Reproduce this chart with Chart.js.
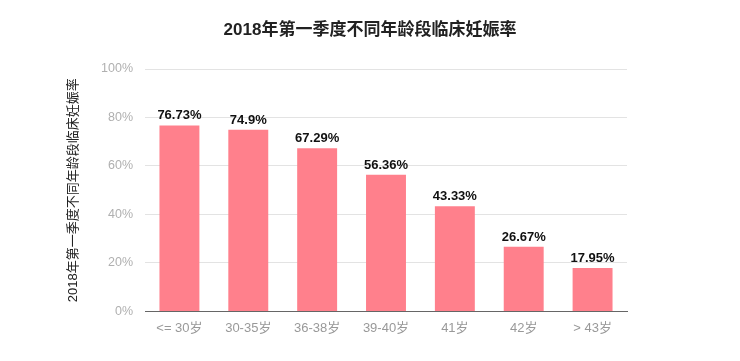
<!DOCTYPE html>
<html>
<head>
<meta charset="utf-8">
<script src="https://cdn.jsdelivr.net/npm/chart.js@4/dist/chart.umd.min.js"></script>
<style>
  html, body { margin: 0; padding: 0; background: #fff; }
  #wrap { width: 740px; height: 361px; position: relative; }
</style>
</head>
<body>
<div id="wrap"><canvas id="c"></canvas></div>
<script>
const categories = ["<= 30岁", "30-35岁", "36-38岁", "39-40岁", "41岁", "42岁", "> 43岁"];
const rates = [76.73, 74.9, 67.29, 56.36, 43.33, 26.67, 17.95];
const rateLabels = ["76.73%", "74.9%", "67.29%", "56.36%", "43.33%", "26.67%", "17.95%"];
const titleText = "2018年第一季度不同年龄段临床妊娠率";
const yTitleText = "2018年第一季度不同年龄段临床妊娠率";

const FONT = '"Liberation Sans", "Noto Sans CJK SC", sans-serif';

const valueLabels = {
  id: 'valueLabels',
  afterDatasetsDraw(chart) {
    const ctx = chart.ctx;
    const meta = chart.getDatasetMeta(0);
    ctx.save();
    ctx.font = 'bold 13px ' + FONT;
    ctx.fillStyle = '#111';
    ctx.textAlign = 'center';
    ctx.textBaseline = 'bottom';
    meta.data.forEach((bar, i) => {
      ctx.fillText(rateLabels[i], bar.x, bar.y - 3);
    });
    ctx.restore();
  }
};

const centeredTitle = {
  id: 'centeredTitle',
  afterDraw(chart) {
    const ctx = chart.ctx;
    ctx.save();
    ctx.font = 'bold 17px ' + FONT;
    ctx.fillStyle = '#222';
    ctx.textAlign = 'center';
    ctx.textBaseline = 'middle';
    ctx.fillText(titleText, chart.width / 2, 30);
    ctx.restore();
  }
};

new Chart(document.getElementById('c'), {
  type: 'bar',
  data: {
    labels: categories,
    datasets: [{
      data: rates,
      backgroundColor: 'rgb(255,128,140)',
      borderWidth: 0,
      categoryPercentage: 1,
      barPercentage: 0.58
    }]
  },
  options: {
    responsive: true,
    maintainAspectRatio: false,
    animation: false,
    layout: { padding: { left: 66, right: 113, top: 69, bottom: 16 } },
    plugins: {
      legend: { display: false },
      tooltip: { enabled: false },
      title: { display: false }
    },
    scales: {
      x: {
        grid: { display: false, drawTicks: false },
        border: { display: true, color: '#666', width: 1 },
        ticks: {
          color: '#999',
          font: { family: FONT, size: 13 },
          padding: 9,
          maxRotation: 0
        }
      },
      y: {
        min: 0,
        max: 100,
        afterFit(scale) { scale.width = 79; },
        grid: { color: '#e3e3e3', drawTicks: false, lineWidth: 1 },
        border: { display: false },
        ticks: {
          stepSize: 20,
          color: '#b0b0b0',
          font: { family: FONT, size: 12.5 },
          padding: 12,
          callback: v => v + '%'
        },
        title: {
          display: true,
          text: yTitleText,
          color: '#222',
          font: { family: FONT, size: 13 },
          padding: 0
        }
      }
    }
  },
  plugins: [valueLabels, centeredTitle]
});
</script>
</body>
</html>
